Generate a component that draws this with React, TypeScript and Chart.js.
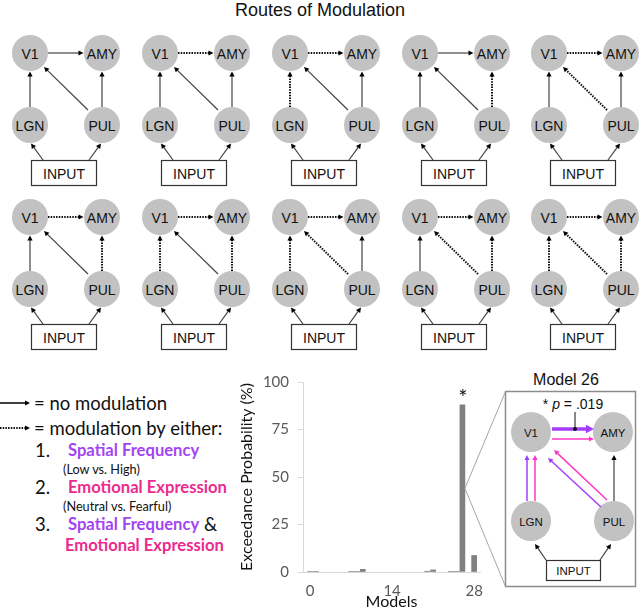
import React, { useEffect, useRef } from 'react';
import { Chart, registerables } from 'chart.js';

Chart.register(...registerables);

// ---------------- data ----------------
const modelNumbers = [0, 1, 7, 8, 9, 20, 21, 24, 25, 26, 28];
const exceedanceProbability = [0.3, 0.3, 0.3, 0.3, 1.4, 0.4, 1.1, 0.3, 0.3, 88, 8.7];
const xTickValues = [0, 14, 28];
const yTickValues = [0, 25, 50, 75, 100];
const bestModel = 26;
const bestModelLabel = 'Model 26';
const bestModelP = '.019';

const figureTitle = 'Routes of Modulation';
// edge order: V1→AMY, LGN→V1, PUL→V1, PUL→AMY   (1 = modulated / dotted)
const row1Modulation = [
  [0, 0, 0, 0],
  [1, 0, 0, 0],
  [1, 1, 0, 0],
  [0, 0, 0, 1],
  [1, 0, 1, 0],
];
const row2Modulation = [
  [1, 0, 0, 1],
  [1, 1, 0, 1],
  [1, 1, 1, 0],
  [1, 0, 1, 1],
  [1, 1, 1, 1],
];

// ---------------- styles / layout ----------------
const ARIAL = "'Liberation Sans', Arial, sans-serif";
const CAL = "Lato, 'Open Sans', sans-serif";
const PURPLE = '#a245f2';
const MAGENTA = '#ec2a8e';
const ARROW_PURPLE = '#a43cff';
const ARROW_MAGENTA = '#ff36c8';
const diagramX = [30, 160, 290, 420, 549];
const row1Y = 53;
const row2Y = 217;
const PANEL = { x: 505.5, y: 391.5, w: 130, h: 195 };

type ArrowProps = {
  x1: number; y1: number; x2: number; y2: number;
  color?: string; head?: string; width?: number; dotted?: boolean; hl?: number; hw?: number;
};

function Arrow({ x1, y1, x2, y2, color = '#444', head = '#000', width = 1.2, dotted = false, hl = 5, hw = 2.6 }: ArrowProps) {
  const dx = x2 - x1;
  const dy = y2 - y1;
  const len = Math.hypot(dx, dy);
  const ux = dx / len;
  const uy = dy / len;
  const bx = x2 - ux * hl;
  const by = y2 - uy * hl;
  const px = -uy;
  const py = ux;
  return (
    <g>
      <line
        x1={x1} y1={y1} x2={bx + ux * 0.5} y2={by + uy * 0.5}
        stroke={dotted ? '#111' : color}
        strokeWidth={dotted ? 2 : width}
        strokeDasharray={dotted ? '1.5 1.2' : undefined}
      />
      <polygon
        points={`${x2},${y2} ${bx + px * hw},${by + py * hw} ${bx - px * hw},${by - py * hw}`}
        fill={head}
      />
    </g>
  );
}

function Node({ x, y, r, label, size }: { x: number; y: number; r: number; label: string; size: number }) {
  return (
    <g>
      <circle cx={x} cy={y} r={r} fill="#c2c2c2" />
      <text x={x} y={y + 0.5} fontFamily={ARIAL} fontSize={size} fill="#111" textAnchor="middle" dominantBaseline="central">
        {label}
      </text>
    </g>
  );
}

function Diagram({ ox, oy, mod }: { ox: number; oy: number; mod: number[] }) {
  const d = 72;
  const r = 18;
  const edges = [
    [ox + r, oy, ox + d - r - 0.5, oy],
    [ox, oy + d - r, ox, oy + r + 0.5],
    [ox + 58, oy + 57, ox + 14, oy + 14],
    [ox + d, oy + d - r, ox + d, oy + r + 0.5],
  ];
  return (
    <g>
      <Node x={ox} y={oy} r={r} label="V1" size={14} />
      <Node x={ox + d} y={oy} r={r} label="AMY" size={14} />
      <Node x={ox} y={oy + d} r={r} label="LGN" size={14} />
      <Node x={ox + d} y={oy + d} r={r} label="PUL" size={14} />
      {edges.map((e, i) => (
        <Arrow key={i} x1={e[0]} y1={e[1]} x2={e[2]} y2={e[3]} dotted={!!mod[i]} />
      ))}
      <Arrow x1={ox + 13} y1={oy + 107} x2={ox + 1} y2={oy + 90.5} />
      <Arrow x1={ox + 59} y1={oy + 107} x2={ox + 71} y2={oy + 90.5} />
      <rect x={ox + 1.5} y={oy + 107.5} width={65} height={25} fill="#fff" stroke="#333" strokeWidth={1.2} />
      <text x={ox + 34} y={oy + 120.5} fontFamily={ARIAL} fontSize={14} fill="#111" textAnchor="middle" dominantBaseline="central">
        INPUT
      </text>
    </g>
  );
}

function Legend() {
  const BIG = 18.5;
  const COL = 16.6;
  const SMALL = 12.7;
  const t = (x: number, y: number, content: React.ReactNode, size = BIG, weight = 400, fill = '#111') => (
    <text x={x} y={y} fontFamily={CAL} fontSize={size} fontWeight={weight} fill={fill} dominantBaseline="central">
      {content}
    </text>
  );
  return (
    <g>
      <Arrow x1={0} y1={403} x2={30} y2={403} color="#000" width={1.5} />
      <Arrow x1={0} y1={428} x2={30} y2={428} dotted />
      {t(34, 403, '= no modulation')}
      {t(34, 428, '= modulation by either:')}
      {t(35, 450, '1.')}
      {t(68, 450, 'Spatial Frequency', COL, 700, PURPLE)}
      {t(63, 469, '(Low vs. High)', SMALL)}
      {t(35, 487, '2.')}
      {t(68, 487, 'Emotional Expression', COL, 700, MAGENTA)}
      {t(63, 506, '(Neutral vs. Fearful)', SMALL)}
      {t(35, 524, '3.')}
      <text x={68} y={524} fontFamily={CAL} fontSize={COL} fontWeight={700} fill={PURPLE} dominantBaseline="central">
        Spatial Frequency<tspan fill="#111" fontWeight={400} fontSize={BIG}> &amp;</tspan>
      </text>
      {t(65, 545, 'Emotional Expression', COL, 700, MAGENTA)}
    </g>
  );
}

function Panel() {
  const r = 20;
  const v1 = { x: 531, y: 432 };
  const amy = { x: 613, y: 432 };
  const lgn = { x: 531, y: 521 };
  const pul = { x: 614, y: 521 };
  return (
    <g>
      <text x={566} y={379} fontFamily={ARIAL} fontSize={16} fill="#111" textAnchor="middle" dominantBaseline="central">
        {bestModelLabel}
      </text>
      <rect x={PANEL.x} y={PANEL.y} width={PANEL.w} height={PANEL.h} fill="#fff" stroke="#8c8c8c" strokeWidth={1.5} />
      <text x={573} y={404} fontFamily={ARIAL} fontSize={14} fill="#111" textAnchor="middle" dominantBaseline="central">
        {'* '}<tspan fontStyle="italic">p</tspan>{` = ${bestModelP}`}
      </text>
      <Node x={v1.x} y={v1.y} r={r} label="V1" size={11.5} />
      <Node x={amy.x} y={amy.y} r={r} label="AMY" size={11.5} />
      <Node x={lgn.x} y={lgn.y} r={r} label="LGN" size={11.5} />
      <Node x={pul.x} y={pul.y} r={r} label="PUL" size={11.5} />
      <Arrow x1={552} y1={429} x2={594} y2={429} color={ARROW_PURPLE} head={ARROW_PURPLE} width={3.5} hl={8} hw={4.2} />
      <line x1={575} y1={412} x2={575} y2={429} stroke="#111" strokeWidth={1} />
      <circle cx={575} cy={429} r={2} fill="#111" />
      <Arrow x1={552} y1={439} x2={594} y2={439} color={ARROW_MAGENTA} head={ARROW_MAGENTA} width={1.5} hl={5} hw={2.5} />
      <Arrow x1={527} y1={501} x2={527} y2={455} color={ARROW_PURPLE} head={ARROW_PURPLE} width={1.5} />
      <Arrow x1={535} y1={501} x2={535} y2={455} color={ARROW_MAGENTA} head={ARROW_MAGENTA} width={1.5} />
      <Arrow x1={601} y1={507} x2={548} y2={458} color={ARROW_PURPLE} head={ARROW_PURPLE} width={1.5} />
      <Arrow x1={607} y1={500} x2={554} y2={450} color={ARROW_MAGENTA} head={ARROW_MAGENTA} width={1.5} />
      <Arrow x1={614} y1={501} x2={614} y2={455} color="#444" width={1.2} />
      <Arrow x1={546} y1={560} x2={535} y2={544} color="#444" width={1.2} />
      <Arrow x1={600} y1={560} x2={611} y2={544} color="#444" width={1.2} />
      <rect x={546.5} y={560.5} width={54} height={20} fill="#fff" stroke="#333" strokeWidth={1.2} />
      <text x={573.5} y={571} fontFamily={ARIAL} fontSize={11.5} fill="#111" textAnchor="middle" dominantBaseline="central">
        INPUT
      </text>
    </g>
  );
}

const annotationPlugin = {
  id: 'bestModelAnnotation',
  afterDatasetsDraw(chart: any) {
    const xs = chart.scales.x;
    const ys = chart.scales.y;
    const idx = modelNumbers.indexOf(bestModel);
    const px = xs.getPixelForValue(bestModel);
    const top = ys.getPixelForValue(exceedanceProbability[idx]);
    const mid = (top + ys.getPixelForValue(0)) / 2;
    const ctx = chart.ctx;
    ctx.save();
    ctx.strokeStyle = '#a6a6a6';
    ctx.lineWidth = 1;
    ctx.beginPath();
    ctx.moveTo(px + 2.5, mid);
    ctx.lineTo(PANEL.x, PANEL.y);
    ctx.moveTo(px + 2.5, mid);
    ctx.lineTo(PANEL.x, PANEL.y + PANEL.h);
    ctx.stroke();
    ctx.fillStyle = '#111';
    ctx.font = '22px Lato';
    ctx.textAlign = 'center';
    ctx.textBaseline = 'alphabetic';
    ctx.fillText('*', px + 0.5, top);
    ctx.restore();
  },
};

export default function App() {
  const canvasRef = useRef<HTMLCanvasElement | null>(null);

  useEffect(() => {
    const canvas = canvasRef.current;
    if (!canvas) return;
    const chart = new Chart(canvas, {
      type: 'bar',
      data: {
        datasets: [
          {
            data: modelNumbers.map((m, i) => ({ x: m, y: exceedanceProbability[i] })),
            backgroundColor: '#808080',
            barThickness: 5,
          },
        ],
      },
      options: {
        animation: false,
        responsive: false,
        maintainAspectRatio: false,
        layout: { padding: { left: 230, top: 382, right: 160, bottom: 0 } },
        plugins: {
          legend: { display: false },
          tooltip: { enabled: false },
          title: { display: false },
        },
        scales: {
          x: {
            type: 'linear',
            min: -1.2,
            max: 29,
            offset: false,
            afterBuildTicks: (s: any) => {
              s.ticks = xTickValues.map((v) => ({ value: v }));
            },
            afterFit: (s: any) => {
              s.height = 39;
            },
            grid: { display: false, drawTicks: false, offset: false },
            border: { display: true, color: '#d9d9d9', width: 1 },
            ticks: {
              font: { family: 'Lato', size: 15 },
              color: '#595959',
              padding: 10,
              maxRotation: 0,
              autoSkip: false,
              callback: (v: any) => String(v),
            },
            title: {
              display: true,
              text: 'Models',
              font: { family: 'Lato', size: 16 },
              color: '#111',
              padding: { top: 0, bottom: 0 },
            },
          },
          y: {
            min: 0,
            max: 100,
            afterBuildTicks: (s: any) => {
              s.ticks = yTickValues.map((v) => ({ value: v }));
            },
            afterFit: (s: any) => {
              s.width = 73;
            },
            grid: { drawOnChartArea: false, color: '#d9d9d9', tickLength: 5 },
            border: { display: true, color: '#d9d9d9', width: 1 },
            ticks: {
              font: { family: 'Lato', size: 15 },
              color: '#595959',
              padding: 9,
              callback: (v: any) => String(v),
            },
            title: {
              display: true,
              text: 'Exceedance Probability (%)',
              font: { family: 'Lato', size: 16 },
              color: '#111',
              padding: { top: 7, bottom: 0 },
            },
          },
        },
      },
      plugins: [annotationPlugin],
    } as any);
    return () => chart.destroy();
  }, []);

  return (
    <div style={{ position: 'absolute', left: 0, top: 0, width: 640, height: 611, background: '#fff', overflow: 'hidden' }}>
      <svg width={640} height={611} style={{ position: 'absolute', left: 0, top: 0 }}>
        <text x={320} y={10} fontFamily={ARIAL} fontSize={18} fill="#111" textAnchor="middle" dominantBaseline="central">
          {figureTitle}
        </text>
        {row1Modulation.map((m, i) => (
          <Diagram key={`r1-${i}`} ox={diagramX[i]} oy={row1Y} mod={m} />
        ))}
        {row2Modulation.map((m, i) => (
          <Diagram key={`r2-${i}`} ox={diagramX[i]} oy={row2Y} mod={m} />
        ))}
        <Legend />
        <Panel />
      </svg>
      <canvas
        ref={canvasRef}
        width={640}
        height={611}
        style={{ position: 'absolute', left: 0, top: 0, width: 640, height: 611 }}
      />
    </div>
  );
}
